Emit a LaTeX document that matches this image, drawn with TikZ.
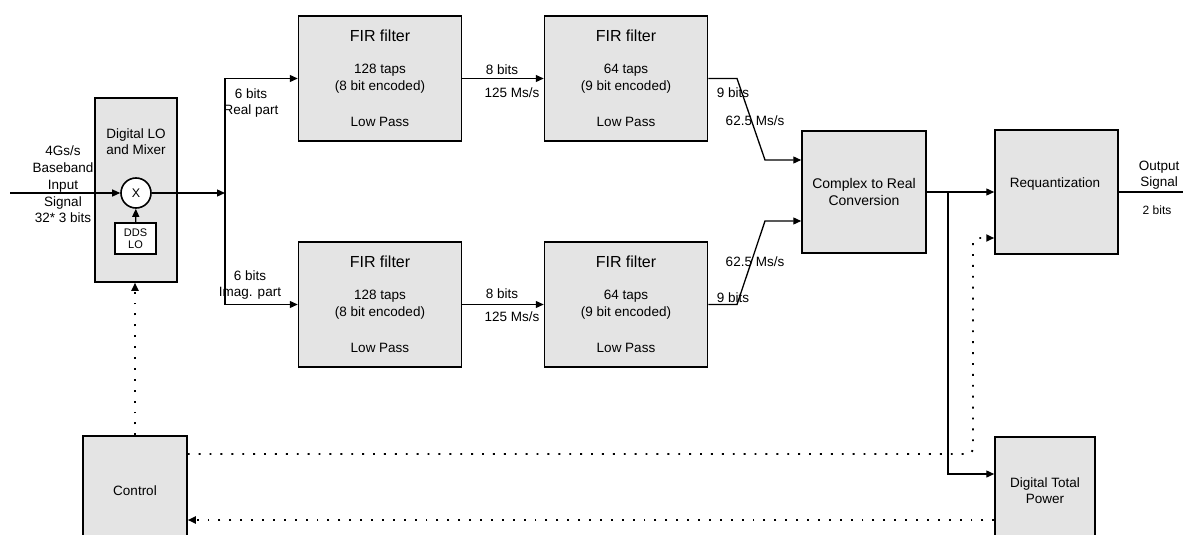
\documentclass[tikz,border=0pt]{standalone}
\usepackage{fontspec}
\setmainfont{Liberation Sans}
\usetikzlibrary{positioning,arrows.meta}
\definecolor{boxgray}{RGB}{228,228,228}

\begin{document}
\begin{tikzpicture}[x=1pt,y=-1pt,
  every node/.style={font=\fontsize{13.5}{16.5}\selectfont, inner sep=0pt},
  blk/.style={draw, line width=1.5pt, fill=boxgray},
  filt/.style={blk, minimum width=163pt, minimum height=125pt},
  ttl/.style={font=\fontsize{16}{19}\selectfont},
  lbl/.style={align=center},
  sig/.style={line width=1.3pt, -{Triangle[length=8pt,width=7pt]}},
  ctl/.style={line width=1.9pt, dash pattern=on 1.9pt off 9pt, -{Triangle[length=8pt,width=7pt]}}]
  \useasboundingbox (0,0) rectangle (1183,535);
  \clip (0,0) rectangle (1183,535);

  % mixer stage
  \node[blk, minimum width=82pt, minimum height=184pt] (lo) at (136,190) {};
  \node[lbl, font=\fontsize{13.5}{16}\selectfont] (lotxt) at (136,142) {Digital LO\\and Mixer};
  \node[draw, circle, fill=white, line width=1.6pt, minimum size=30pt, font=\fontsize{12.5}{14}\selectfont] (mix) at (136,193) {X};
  \node[draw, fill=white, line width=1.5pt, minimum width=41pt, minimum height=31pt, align=center, font=\fontsize{11}{12.5}\selectfont] (dds) at (135.5,238.5) {DDS\\LO};
  \draw[sig] (dds) -- (mix);
  \coordinate (in) at (10,193);
  \draw[sig] (in) -- (mix);
  \node[lbl, font=\fontsize{13.5}{16.7}\selectfont] (intxt) at (63,184.5) {4Gs/s\\Baseband\\Input\\Signal\\32* 3 bits};

  % filter bank
  \foreach \nm/\cx/\cy/\taps/\enc in {firA/380/78.5/128/8, firB/626/78.5/64/9, firC/380/304.5/128/8, firD/626/304.5/64/9}{
    \node[filt] (\nm) at (\cx,\cy) {};
    \node[ttl] (\nm-t) at (\cx,\cy-42.5) {FIR filter};
    \node[lbl] (\nm-b) at (\cx,\cy) {\taps\ taps\\(\enc\ bit encoded)};
    \node (\nm-l) at (\cx,\cy+43.5) {Low Pass};
  }

  \coordinate (br) at (225,193);
  \draw[sig] (mix) -- (br);
  \draw[sig] (br) |- (firA);
  \draw[sig] (br) |- (firC);
  \node[lbl, font=\fontsize{13.5}{16}\selectfont] (realtxt) at (251,103) {6 bits\\Real part};
  \node[lbl, font=\fontsize{13.5}{16}\selectfont] (imagtxt) at (250,285) {6 bits\\Imag. part};

  \draw[sig] (firA) -- (firB);
  \node (rateA1) at (502,70) {8 bits};
  \node (rateA2) at (512,93) {125 Ms/s};
  \draw[sig] (firC) -- (firD);
  \node (rateC1) at (502,294) {8 bits};
  \node (rateC2) at (512,317) {125 Ms/s};

  % complex to real
  \node[blk, lbl, minimum width=124pt, minimum height=122pt, font=\fontsize{14}{17}\selectfont] (conv) at (864,192) {Complex to Real\\Conversion};
  \coordinate (kA) at (737,78.5);
  \coordinate (kB) at (765,160);
  \draw[sig] (firB) -- (kA) -- (kB) -- (kB -| conv.west);
  \coordinate (kC) at (737,304.5);
  \coordinate (kD) at (765,221);
  \draw[sig] (firD) -- (kC) -- (kD) -- (kD -| conv.west);
  \node (rateB1) at (733,93) {9 bits};
  \node (rateB2) at (755,121) {62.5 Ms/s};
  \node (rateD2) at (755,262) {62.5 Ms/s};
  \node (rateD1) at (733,298) {9 bits};

  % output side
  \node[blk, minimum width=123pt, minimum height=124pt] (req) at (1056.5,192) {};
  \node (reqtxt) at (1055,184) {Requantization};
  \node[blk, lbl, minimum width=100pt, minimum height=108pt, font=\fontsize{13.5}{16}\selectfont] (dtp) at (1045,491) {Digital Total\\Power};
  \node[blk, minimum width=104pt, minimum height=109pt] (ctrl) at (135,490.5) {Control};

  \draw[sig] (conv) -- (req);
  \coordinate (jn) at (948,192);
  \draw[sig] (jn) |- ([yshift=17pt]dtp.west);
  \coordinate (out) at (1183,192);
  \draw[line width=1.3pt] (req) -- (out);
  \node[lbl, font=\fontsize{13.5}{16}\selectfont] (outtxt) at (1159,175) {Output\\Signal};
  \node[font=\fontsize{12}{14}\selectfont] (outbits) at (1157,210) {2 bits};

  % control loops
  \draw[ctl] (ctrl.north) -- (ctrl.north |- lo.south);
  \coordinate (cA) at (973,454);
  \coordinate (cB) at (973,238);
  \draw[ctl, rounded corners=5pt] ([yshift=36.5pt]ctrl.east) -- (cA) -- (cB) -- (cB -| req.west);
  \coordinate (fb) at ([yshift=-29pt]dtp.west);
  \draw[ctl] (fb) -- (fb -| ctrl.east);
\end{tikzpicture}
\end{document}
